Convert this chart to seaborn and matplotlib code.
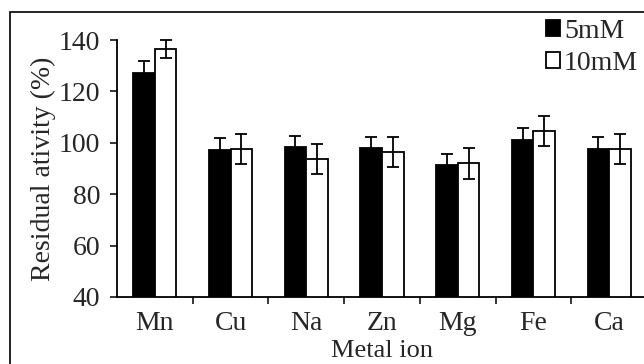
import numpy as np
import pandas as pd
import matplotlib
matplotlib.use('Agg')
import matplotlib.pyplot as plt
import seaborn as sns
from matplotlib.patches import Patch, Rectangle

# data
metals = ['Mn', 'Cu', 'Na', 'Zn', 'Mg', 'Fe', 'Ca']
act_5mm = [127.3, 97.2, 98.2, 97.9, 91.4, 101.1, 97.6]
err_5mm = [4.5, 4.6, 4.4, 4.5, 4.4, 4.7, 4.7]
act_10mm = [136.6, 97.5, 93.6, 96.3, 92.0, 104.6, 97.6]
err_10mm = [3.5, 5.8, 5.8, 5.8, 5.9, 5.9, 5.8]
levels = ['5mM', '10mM']

df = pd.DataFrame({
    'metal': metals * 2,
    'conc': [levels[0]] * len(metals) + [levels[1]] * len(metals),
    'activity': act_5mm + act_10mm,
})

sns.set_style('white')
plt.rcParams['font.family'] = ['Liberation Serif', 'DejaVu Serif']
plt.rcParams['font.size'] = 20

fig = plt.figure(figsize=(6.44, 3.64), dpi=100)
ax = fig.add_axes([117 / 644, 1 - 297 / 364, 530 / 644, 257 / 364])

sns.barplot(data=df, x='metal', y='activity', hue='conc', order=metals,
            hue_order=levels, palette=['black', 'white'], width=0.57,
            edgecolor='black', linewidth=1.3, errorbar=None, ax=ax,
            legend=False)

# error bars on top of each bar
for cont, errs in zip(ax.containers, [err_5mm, err_10mm]):
    for bar, e in zip(cont, errs):
        xc = bar.get_x() + bar.get_width() / 2
        ax.errorbar(xc, bar.get_height(), yerr=e, fmt='none', ecolor='black',
                    elinewidth=1.3, capsize=4.5, capthick=1.3, clip_on=False, zorder=5)

ax.set_ylim(40, 140)
ax.set_xlim(-0.5, len(metals) - 0.5)
ax.set_yticks([40, 60, 80, 100, 120, 140])
ax.set_xticks(np.arange(len(metals)))
ax.set_xticklabels(metals)
ax.set_xticks(np.arange(0.5, len(metals) - 0.5, 1), minor=True)
ax.tick_params(axis='x', which='major', length=0, pad=10)
ax.tick_params(axis='x', which='minor', direction='out', length=5, width=1.1, color='black', bottom=True)
ax.tick_params(axis='y', direction='out', length=5, width=1.1, color='black', left=True, pad=7)

for side in ['top', 'right']:
    ax.spines[side].set_visible(False)
for side in ['left', 'bottom']:
    ax.spines[side].set_color('black')
    ax.spines[side].set_linewidth(1.3)

ax.set_ylabel('Residual ativity (%)', labelpad=2)
ax.set_xlabel('Metal ion', labelpad=3, fontsize=19)

handles = [Patch(facecolor='black', edgecolor='black', linewidth=1.3),
           Patch(facecolor='white', edgecolor='black', linewidth=1.3)]
ax.legend(handles, levels, loc='upper left', bbox_to_anchor=(546 / 644, 1 - 19 / 364),
          bbox_transform=fig.transFigure, frameon=False, handlelength=0.5,
          handleheight=0.5, handletextpad=0.15, labelspacing=0.25, fontsize=20,
          borderaxespad=0, borderpad=0)

# outer frame around the chart
fig.patches.append(Rectangle((10 / 644, -0.1), 1.2, 1 - 12 / 364 + 0.1, transform=fig.transFigure,
                             fill=False, edgecolor='black', linewidth=1.2))

fig.savefig('out.png', dpi=100)
